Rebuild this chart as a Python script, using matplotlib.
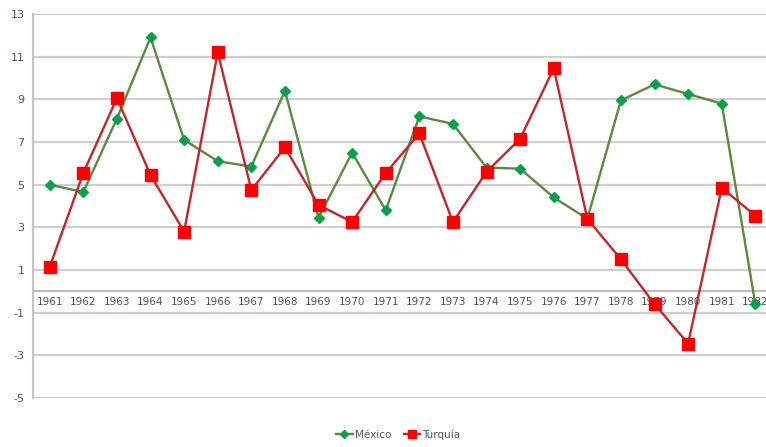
import matplotlib.pyplot as plt

plt.rcParams['axes.unicode_minus'] = False

years = [str(y) for y in range(1961, 1983)]
mexico = [5.0, 4.65, 8.1, 11.9, 7.1, 6.1, 5.85, 9.4, 3.45, 6.5, 3.8,
          8.2, 7.85, 5.8, 5.75, 4.4, 3.4, 8.95, 9.7, 9.25, 8.8, -0.6]
turquia = [1.15, 5.55, 9.05, 5.45, 2.8, 11.2, 4.75, 6.75, 4.05, 3.25, 5.55,
           7.4, 3.25, 5.6, 7.15, 10.45, 3.4, 1.5, -0.6, -2.45, 4.85, 3.55]
yticks = [-5, -3, -1, 1, 3, 5, 7, 9, 11, 13]

text_color = '#4a5266'
grid_color = '#cfcfcf'

fig = plt.figure(figsize=(7.66, 4.47), dpi=100)
# plot area runs a bit past the right edge, as in the source picture
ax = fig.add_axes([0.043, 0.1096, 0.965, 0.8591])

x = list(range(len(years)))
ax.plot(x, mexico, color='#5b8a3e', lw=1.7, marker='D', ms=5.5,
        mfc='#0aa04a', mec='#0aa04a', label='México', zorder=3)
ax.plot(x, turquia, color='#c0262c', lw=1.7, marker='s', ms=8,
        mfc='#ff0000', mec='#ff0000', label='Turquía', zorder=3)

ax.set_ylim(-5, 13)
ax.set_xlim(-0.5, len(years) - 0.5)
ax.set_yticks(yticks)
ax.set_xticks(x)
ax.set_xticklabels(years)

for v in yticks:
    ax.axhline(v, color=grid_color, lw=1.6, zorder=1)
ax.axhline(0, color='#bdbdbd', lw=1.6, zorder=1)

for s in ['top', 'right']:
    ax.spines[s].set_visible(False)
ax.spines['left'].set_color('#c4c4c4')
ax.spines['left'].set_linewidth(1.6)
ax.spines['bottom'].set_position(('data', 0))
ax.spines['bottom'].set_visible(False)

ax.tick_params(axis='y', length=0, pad=6, labelsize=8, labelcolor=text_color)
ax.tick_params(axis='x', length=0, pad=4, labelsize=7.5, labelcolor=text_color)

leg = fig.legend(loc='lower center', bbox_to_anchor=(0.52, -0.005), ncol=2,
                 frameon=False, fontsize=7.5, handlelength=1.6,
                 handletextpad=0.2, columnspacing=1.2, markerscale=0.7)
for t in leg.get_texts():
    t.set_color(text_color)

fig.savefig('out.png', dpi=100)
